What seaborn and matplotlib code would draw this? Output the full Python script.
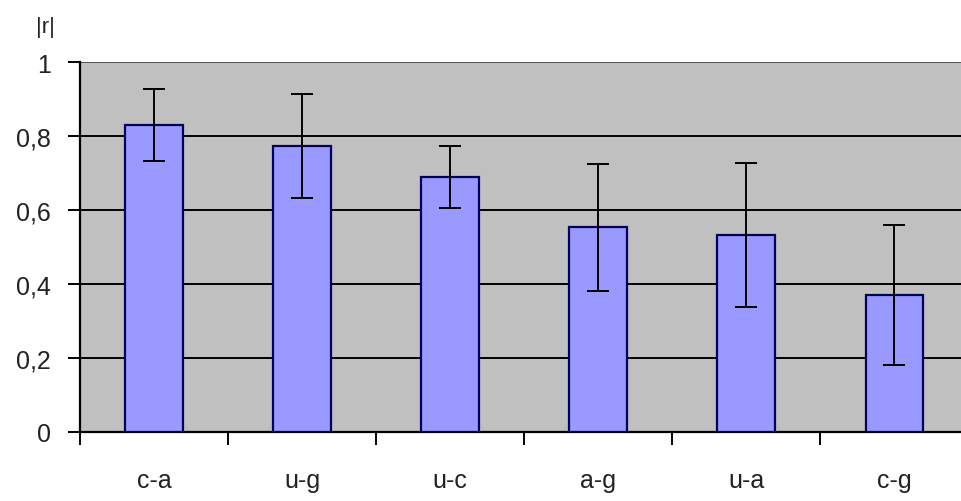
import matplotlib
matplotlib.use("Agg")
import matplotlib.pyplot as plt
import seaborn as sns
import pandas as pd
from matplotlib.ticker import FixedLocator

categories = ["c-a", "u-g", "u-c", "a-g", "u-a", "c-g"]
values = [0.831, 0.773, 0.689, 0.553, 0.532, 0.370]
errors = [0.097, 0.140, 0.084, 0.173, 0.195, 0.190]
yticks = [0, 0.2, 0.4, 0.6, 0.8, 1]
ytick_labels = ["0", "0,2", "0,4", "0,6", "0,8", "1"]
ylabel = "|r|"

sns.set_style("white")
plt.rcParams['font.family'] = ['Liberation Sans', 'DejaVu Sans']

df = pd.DataFrame({"pair": categories, "r": values})

W, H = 962, 502
fig = plt.figure(figsize=(W / 100, H / 100), dpi=100)
left, right, bottom, top = 80, 968.5, 432.7, 63.3
ax = fig.add_axes([left / W, 1 - bottom / H, (right - left) / W, (bottom - top) / H])
ax.set_facecolor("#C0C0C0")

sns.barplot(data=df, x="pair", y="r", ax=ax, color="#9999FF", width=0.39,
            edgecolor="#000060", linewidth=1.6, saturation=1, errorbar=None, zorder=3)
for p in ax.patches:
    p.set_facecolor("#9999FF")

ax.errorbar(range(len(categories)), values, yerr=errors, fmt="none",
            ecolor="black", elinewidth=1.4, capsize=8, capthick=1.4, zorder=4)

ax.set_xlim(-0.5, len(categories) - 0.5)
ax.set_ylim(0, 1)
ax.set_yticks(yticks)
ax.set_yticklabels(ytick_labels)
ax.yaxis.grid(True, color="black", linewidth=1.4, zorder=1)
ax.set_axisbelow(True)

# category boundary ticks on x-axis
ax.xaxis.set_major_locator(FixedLocator([i - 0.5 for i in range(len(categories) + 1)]))
ax.xaxis.set_minor_locator(FixedLocator(list(range(len(categories)))))
ax.set_xticklabels([], minor=False)
ax.set_xticklabels(categories, minor=True)
ax.tick_params(axis="x", which="major", direction="out", length=9, width=1.4, color="black", bottom=True)
ax.tick_params(axis="x", which="minor", length=0, pad=26, labelsize=18, labelcolor="#222222")
ax.tick_params(axis="y", direction="out", length=9, width=1.4, color="black", left=True, pad=12,
               labelsize=18, labelcolor="#222222")

ax.set_xlabel("")
ax.set_ylabel("")
for s in ["top", "right"]:
    ax.spines[s].set_visible(False)
ax.spines["left"].set_color("black")
ax.spines["left"].set_linewidth(1.6)
ax.spines["bottom"].set_color("black")
ax.spines["bottom"].set_linewidth(1.6)
ax.axhline(1, color="#555555", linewidth=1.4, zorder=2)

fig.text(45 / W, 1 - 27 / H, ylabel, ha="center", va="center", fontsize=16, color="#222222")

fig.savefig("out.png", dpi=100, facecolor="white")
